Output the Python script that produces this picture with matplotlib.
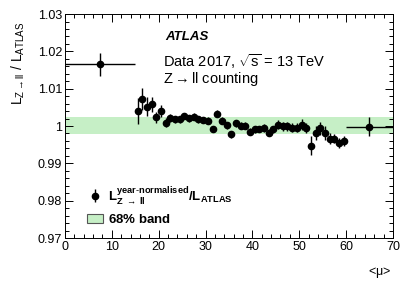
import numpy as np
import matplotlib
matplotlib.use('Agg')
import matplotlib.pyplot as plt
from matplotlib.patches import Patch
from matplotlib.ticker import MultipleLocator

plt.rcParams['font.family'] = ['Liberation Sans', 'DejaVu Sans']
plt.rcParams['mathtext.fontset'] = 'custom'
plt.rcParams['mathtext.rm'] = 'Liberation Sans'
plt.rcParams['mathtext.it'] = 'Liberation Sans:italic'
plt.rcParams['mathtext.bf'] = 'Liberation Sans:bold'

# bins of <mu> (1 wide, 15 -> 60)
mu = np.arange(15.5, 60.0, 1.0)
ratio = [1.0040, 1.0073, 1.0052, 1.0058, 1.0023, 1.0040, 1.0009, 1.0021, 1.0018, 1.0018,
         1.0027, 1.0021, 1.0025, 1.0018, 1.0016, 1.0014, 0.9992, 1.0033, 1.0014, 1.0002,
         0.9978, 1.0007, 1.0001, 1.0001, 0.9985, 0.9991, 0.9992, 0.9995, 0.9982, 0.9991,
         1.0003, 1.0000, 0.9999, 0.9996, 0.9996, 1.0004, 0.9995, 0.9947, 0.9981, 0.9994,
         0.9981, 0.9966, 0.9966, 0.9955, 0.9960]
ratio_err = [0.0035, 0.0030, 0.0025, 0.0020, 0.0015, 0.0015, 0.0012, 0.0010, 0.0010, 0.0010,
             0.0009, 0.0009, 0.0009, 0.0009, 0.0009, 0.0009, 0.0009, 0.0009, 0.0009, 0.0009,
             0.0009, 0.0009, 0.0009, 0.0009, 0.0009, 0.0009, 0.0009, 0.0010, 0.0010, 0.0010,
             0.0012, 0.0012, 0.0012, 0.0013, 0.0013, 0.0014, 0.0014, 0.0025, 0.0018, 0.0018,
             0.0018, 0.0015, 0.0012, 0.0013, 0.0013]

# wide bins at low and high <mu>
mu_wide = [7.5, 65.0]
mu_wide_half = [7.5, 5.0]
ratio_wide = [1.0165, 0.9998]
ratio_wide_err = [0.0030, 0.0026]

band_lo, band_hi = 0.9978, 1.0023

fig = plt.figure(figsize=(4.14, 2.81), dpi=100)
ax = fig.add_axes([0.157, 0.153, 0.792, 0.797])

ax.axhspan(band_lo, band_hi, color='#c6efc6', lw=0, zorder=1)

eb = ax.errorbar(mu, ratio, yerr=ratio_err, fmt='o', color='black', ms=4.5,
                 elinewidth=1, capsize=0, zorder=3)
ax.errorbar(mu_wide, ratio_wide, xerr=mu_wide_half, yerr=ratio_wide_err, fmt='o',
            color='black', ms=4.5, elinewidth=1, capsize=0, zorder=3)

ax.set_xlim(0, 70)
ax.set_ylim(0.97, 1.03)
ax.xaxis.set_major_locator(MultipleLocator(10))
ax.xaxis.set_minor_locator(MultipleLocator(2))
ax.yaxis.set_major_locator(MultipleLocator(0.01))
ax.yaxis.set_minor_locator(MultipleLocator(0.002))
ax.set_yticks([0.97, 0.98, 0.99, 1.0, 1.01, 1.02, 1.03])
ax.set_yticklabels(['0.97', '0.98', '0.99', '1', '1.01', '1.02', '1.03'])
ax.tick_params(which='both', direction='in', top=True, right=True, labelsize=9, pad=2)
ax.tick_params(which='major', length=6, width=0.7)
ax.tick_params(which='minor', length=3, width=0.7)
for s in ax.spines.values():
    s.set_linewidth(0.7)

ax.set_xlabel(r'<$\mathrm{\mu}$>', fontsize=9)
ax.xaxis.set_label_coords(0.96, -0.12)
ax.set_ylabel(r'$\mathrm{L_{Z \rightarrow ll}\ /\ L_{ATLAS}}$', fontsize=10)
ax.yaxis.set_label_coords(-0.115, 0.78)

ax.text(0.305, 0.885, 'ATLAS', transform=ax.transAxes, fontsize=9.5,
        fontweight='bold', fontstyle='italic')
ax.text(0.298, 0.762, r'Data 2017, $\sqrt{\mathrm{s}}$ = 13 TeV', transform=ax.transAxes, fontsize=10.5)
ax.text(0.298, 0.69, r'Z$\rightarrow$ll counting', transform=ax.transAxes, fontsize=10.5)

handles = [eb, Patch(facecolor='#c6efc6', edgecolor='#555555', lw=0.8)]
labels = [r'$\mathbf{L_{Z\ \rightarrow\ ll}^{year\text{-}normalised}/L_{ATLAS}}$', r'$\mathbf{68\%\ band}$']
ax.legend(handles, labels, loc='lower left', bbox_to_anchor=(0.03, 0.0), frameon=False,
          fontsize=9.5, handlelength=1.2, handletextpad=0.4, labelspacing=0.5)

fig.savefig('out.png', dpi=100)
